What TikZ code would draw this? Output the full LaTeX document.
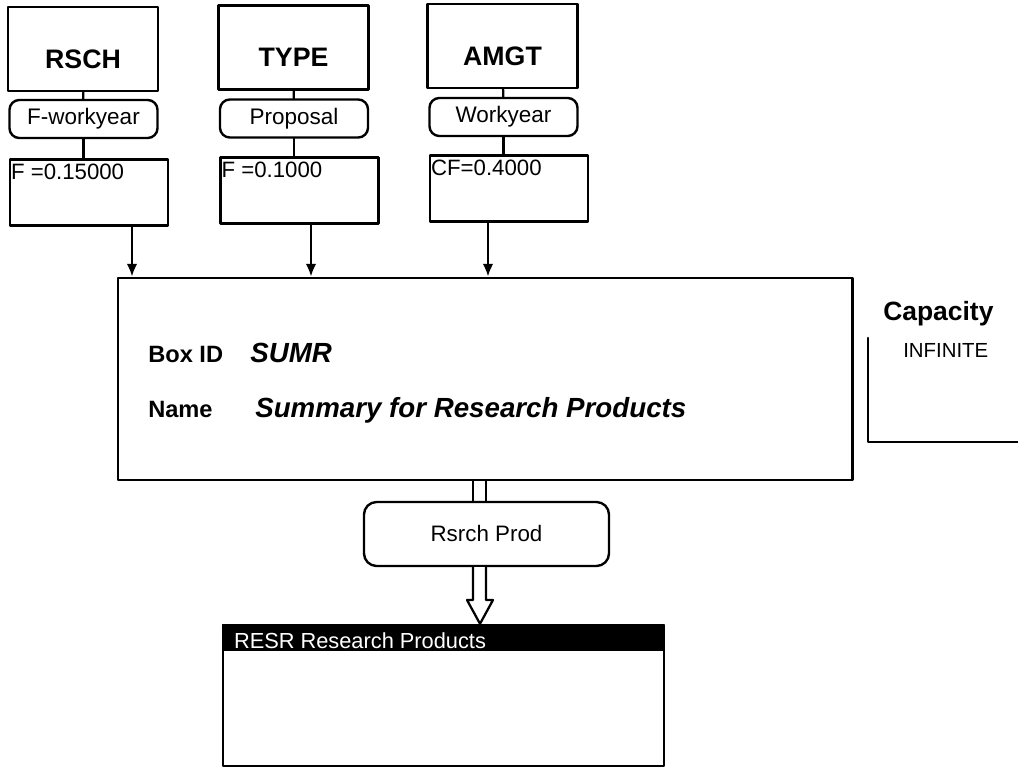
\documentclass[tikz,border=0pt]{standalone}
\usepackage{fontspec}
\setmainfont{Liberation Sans}
\usepackage{tikz}
\usetikzlibrary{arrows.meta}
\usetikzlibrary{calc}

\tikzset{
  entbox/.style={draw,line width=1.9pt,minimum width=3.75cm,minimum height=2.1cm,inner sep=0pt,text height=27.6pt,text depth=0pt,font=\fontsize{19}{22}\selectfont\bfseries},
  relpill/.style={draw,line width=1.7pt,rounded corners=7pt,minimum width=3.7cm,minimum height=0.95cm,inner sep=0pt,font=\fontsize{16}{18}\selectfont},
  facbox/.style={draw,line width=1.7pt,minimum width=3.95cm,minimum height=1.65cm,inner sep=0pt},
  factxt/.style={anchor=base west,inner sep=0pt,font=\fontsize{15.8}{18}\selectfont},
  lbl/.style={anchor=base west,inner sep=0pt,font=\fontsize{16.8}{19}\selectfont\bfseries},
  val/.style={anchor=base west,inner sep=0pt,font=\fontsize{19.7}{22}\selectfont\bfseries\itshape}
}

\begin{document}
\begin{tikzpicture}[line cap=round,line join=round,>={Latex[length=9pt,width=7.5pt]},x=0.025cm,y=0.025cm]
\useasboundingbox (0.,0.) rectangle (1018.,-767.);
% inputs
\node[entbox] (rsch) at (83.,-49.) {RSCH};
\node[entbox] (type) at (293.5,-47.5) {TYPE};
\node[entbox] (amgt) at (502.5,-46.) {AMGT};
\node[relpill] (rschrel) at (83.5,-119.) {F-workyear};
\node[relpill] (typerel) at (294.,-118.5) {Proposal};
\node[relpill] (amgtrel) at (503.5,-117.) {Workyear};
\node[facbox] (rschf) at (89.,-192.5) {};
\node[facbox] (typef) at (299.5,-190.5) {};
\node[facbox] (amgtf) at (509.,-188.5) {};
\node[factxt] (rschft) at ($(rschf.north west)+(2.,-21.)$) {F =0.15000};
\node[factxt] (typeft) at ($(typef.north west)+(2.,-21.)$) {F =0.1000};
\node[factxt] (amgtft) at ($(amgtf.north west)+(2.,-21.)$) {CF=0.4000};
\draw[line width=1.6pt] (rsch) -- (rschrel);
\draw[line width=1.6pt] (type) -- (typerel);
\draw[line width=1.6pt] (amgt) -- (amgtrel);
\draw[line width=1.6pt] (rschrel.south) -- (rschrel.south |- rschf.north);
\draw[line width=1.6pt] (typerel.south) -- (typerel.south |- typef.north);
\draw[line width=1.6pt] (amgtrel.south) -- (amgtrel.south |- amgtf.north);
% summary box
\node[draw,line width=2pt,minimum width=18.35cm,minimum height=5.05cm,inner sep=0pt] (sumr) at (485.,-379.) {};
\draw (148.,-362.) node[lbl] (boxid) {Box ID};
\draw (250.,-362.) node[val] (boxidv) {SUMR};
\draw (148.,-417.) node[lbl] (name) {Name};
\draw (255.,-417.) node[val] (namev) {Summary for Research Products};
\coordinate (a1) at (132.,0.);
\coordinate (a2) at (311.,0.);
\coordinate (a3) at (488.,0.);
\draw[->,line width=1.6pt] (rschf.south -| a1) -- (sumr.north -| a1);
\draw[->,line width=1.6pt] (typef.south -| a2) -- (sumr.north -| a2);
\draw[->,line width=1.6pt] (amgtf.south -| a3) -- (sumr.north -| a3);
% capacity
\draw (883.,-320.) node[anchor=base west,inner sep=0pt,font=\fontsize{18.8}{21}\selectfont\bfseries] (cap) {Capacity};
\draw (903.,-357.) node[anchor=base west,inner sep=0pt,font=\fontsize{14.5}{17}\selectfont] (capv) {INFINITE};
\draw[line width=1.8pt] (868.,-338.) -- (868.,-442.) -- (1018.,-442.);
% output
\node[draw,line width=1.7pt,rounded corners=9pt,minimum width=6.125cm,minimum height=1.6cm,inner sep=0pt,font=\fontsize{15.9}{18}\selectfont] (prod) at (486.5,-534.) {Rsrch Prod};
\node[draw,line width=1.7pt,minimum width=11.025cm,minimum height=3.525cm,inner sep=0pt] (resr) at (443.5,-695.5) {};
\node[fill=black,draw,line width=1.7pt,minimum width=11.025cm,minimum height=0.625cm,inner sep=0pt,anchor=north] (resrhd) at (resr.north) {};
\draw (resrhd.south west) ++(12.,3.) node[anchor=base west,inner sep=0pt,text=white,font=\fontsize{15.5}{18}\selectfont] (resrtxt) {RESR Research Products};
\coordinate (s1) at (473.,-600.);
\coordinate (s2) at (486.,-600.);
\coordinate (tip) at (480.,0.);
\draw[line width=1.6pt] (sumr.south -| s1) -- (prod.north -| s1);
\draw[line width=1.6pt] (sumr.south -| s2) -- (prod.north -| s2);
\draw[line width=1.6pt,fill=white] (prod.south -| s1) -- (s1) -- ++(-6.,0.) -- (resr.north -| tip) -- ($(s2)+(7.,0.)$) -- (s2) -- (prod.south -| s2);
\end{tikzpicture}
\end{document}
